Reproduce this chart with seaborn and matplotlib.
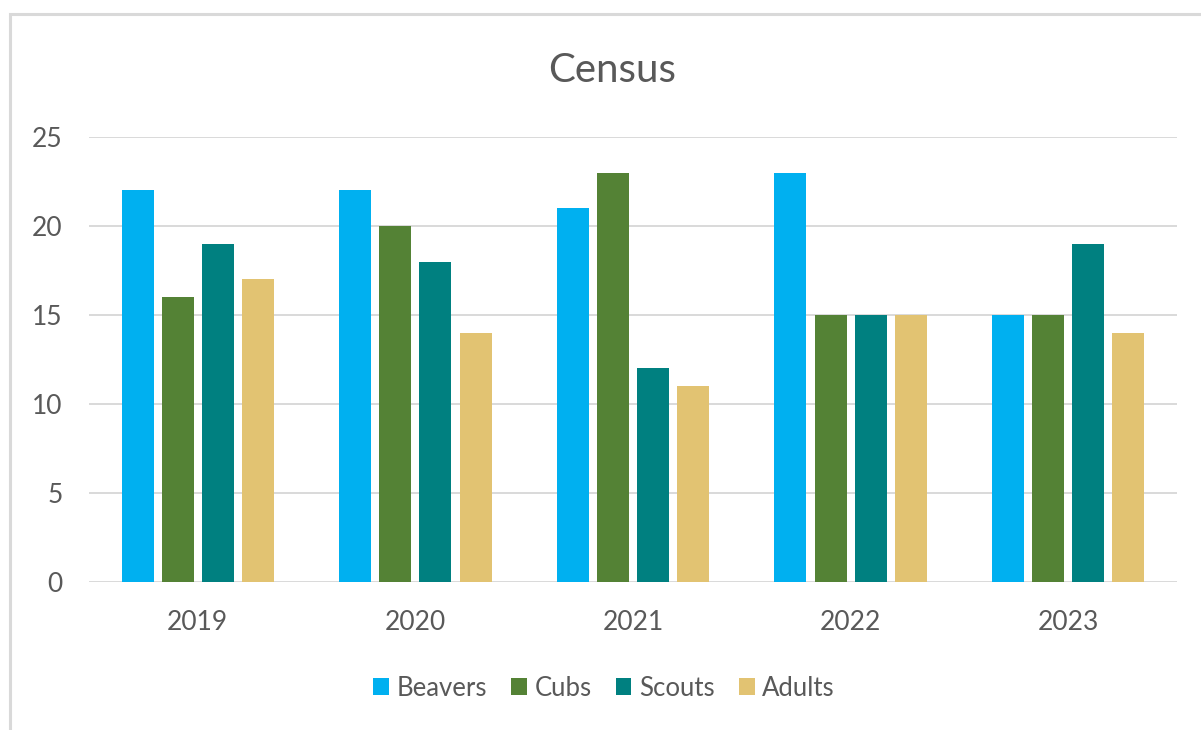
import matplotlib
matplotlib.use("Agg")
import matplotlib.pyplot as plt
from matplotlib.patches import Rectangle, Patch
import seaborn as sns
import pandas as pd

years = ["2019", "2020", "2021", "2022", "2023"]
beavers = [22, 22, 21, 23, 15]
cubs = [16, 20, 23, 15, 15]
scouts = [19, 18, 12, 15, 19]
adults = [17, 14, 11, 15, 14]
series_names = ["Beavers", "Cubs", "Scouts", "Adults"]
colors = ["#00B0F0", "#548235", "#008080", "#E2C372"]
yticks = [0, 5, 10, 15, 20, 25]

rows = []
for name, vals in zip(series_names, [beavers, cubs, scouts, adults]):
    for y, v in zip(years, vals):
        rows.append({"Year": y, "Group": name, "Count": v})
df = pd.DataFrame(rows)

sns.set_theme(style="white")
plt.rcParams["font.family"] = ["Lato", "DejaVu Sans"]
text_color = "#595959"
grid_color = "#D9D9D9"

fig = plt.figure(figsize=(12.01, 7.30), dpi=100)
fig.patch.set_facecolor("white")
# outer chart border
fig.patches.append(Rectangle((10 / 1201, -0.05), 1.2, 1 - 13.5 / 730 + 0.05,
                             transform=fig.transFigure, fill=False,
                             edgecolor="#D9D9D9", linewidth=2.2, zorder=0))

ax = fig.add_axes([89 / 1201, 1 - 582 / 730, (1177 - 89) / 1201, (582 - 137) / 730])
sns.barplot(data=df, x="Year", y="Count", hue="Group", order=years,
            hue_order=series_names, palette=colors, width=0.737, gap=0.2,
            linewidth=0, saturation=1, legend=False, ax=ax, zorder=3)

ax.set_ylim(0, 25)
ax.set_xlim(-0.5, 4.5)
ax.set_yticks(yticks)
ax.set_yticklabels([str(t) for t in yticks])
ax.yaxis.grid(True, color=grid_color, linewidth=1.4, zorder=0)
ax.set_axisbelow(True)
for s in ax.spines.values():
    s.set_visible(False)
ax.tick_params(axis="both", length=0, labelsize=19, labelcolor=text_color)
ax.tick_params(axis="y", pad=19)
ax.tick_params(axis="x", pad=20)
ax.set_xlabel("")
ax.set_ylabel("")

fig.text(0.51, 1 - 70 / 730, "Census", ha="center", va="center",
         fontsize=29, color=text_color)

handles = [Patch(facecolor=c, edgecolor="none", label=n) for c, n in zip(colors, series_names)]
leg = fig.legend(handles=handles, loc="center", bbox_to_anchor=(0.503, 1 - 688 / 730),
                 ncol=4, frameon=False, fontsize=18.5, handlelength=0.6, handleheight=0.6,
                 handletextpad=0.3, columnspacing=0.95)
for t in leg.get_texts():
    t.set_color(text_color)

fig.savefig("out.png", dpi=100, facecolor="white")
